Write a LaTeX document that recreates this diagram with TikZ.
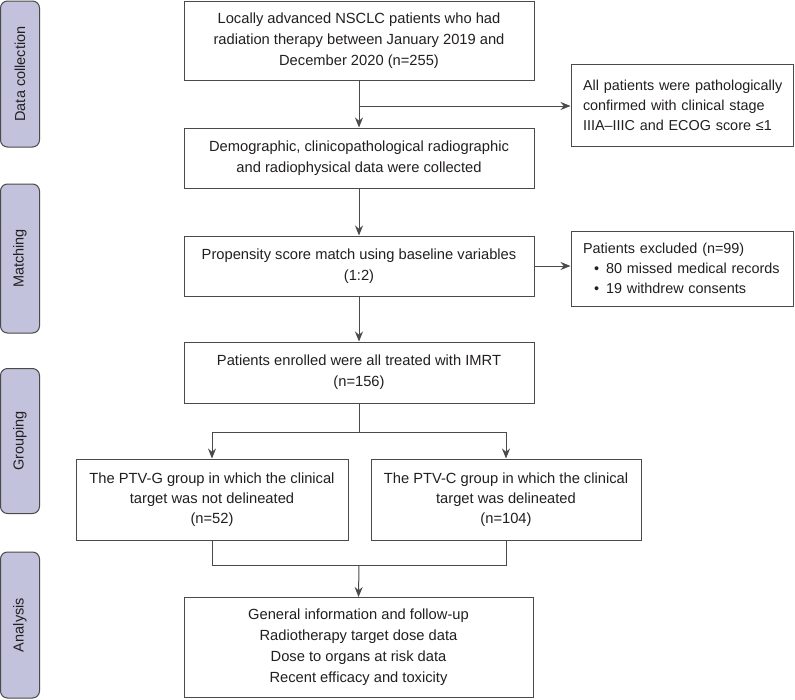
\documentclass[tikz,border=0pt]{standalone}
\usepackage{fontspec}
\setmainfont{Liberation Sans}
\usetikzlibrary{arrows.meta}
\definecolor{linec}{HTML}{4A4A4A}
\definecolor{sidefill}{HTML}{C2C2DC}
\definecolor{txt}{HTML}{231F20}
\begin{document}
\begin{tikzpicture}[x=1pt,y=-1pt,
 box/.style={draw=linec, line width=1pt, fill=white, inner sep=0pt, align=center, text=txt, font=\fontsize{14.7}{21}\selectfont},
 sidebox/.style={draw=linec, line width=1pt, fill=sidefill, rounded corners=7pt, minimum height=39, inner sep=0pt, text=txt, font=\fontsize{14.5}{18}\selectfont, rotate=90},
 notebox/.style={box, align=left, text width=198, inner xsep=12pt, font=\fontsize{14.4}{20}\selectfont},
 conn/.style={draw=linec, line width=1pt},
 arr/.style={conn, -{Stealth[length=10pt,width=8pt]}}
]
\useasboundingbox (0,0) rectangle (795,699);
% sidebars
\node[sidebox, minimum width=146] (sd1) at (20,74) {Data collection};
\node[sidebox, minimum width=149] (sd2) at (20,258.5) {Matching};
\node[sidebox, minimum width=145] (sd3) at (20,441) {Grouping};
\node[sidebox, minimum width=146] (sd4) at (20,625) {Analysis};
% main boxes
\node[box, minimum width=350, minimum height=79] (b1) at (359,40.5) {Locally advanced NSCLC patients who had\\radiation therapy between January 2019 and\\December 2020 (n=255)};
\node[box, minimum width=350, minimum height=60] (b2) at (359,158) {Demographic, clinicopathological radiographic\\and radiophysical data were collected};
\node[box, minimum width=350, minimum height=60] (b3) at (359,266) {Propensity score match using baseline variables\\(1:2)};
\node[box, minimum width=350, minimum height=61] (b4) at (359,372.5) {Patients enrolled were all treated with IMRT\\(n=156)};
\node[box, minimum width=272, minimum height=81, font=\fontsize{14.7}{20}\selectfont] (b5) at (212,499.5) {The PTV-G group in which the clinical\\target was not delineated\\(n=52)};
\node[box, minimum width=270, minimum height=81, font=\fontsize{14.7}{20}\selectfont] (b6) at (506,499.5) {The PTV-C group in which the clinical\\target was delineated\\(n=104)};
\node[box, minimum width=349, minimum height=100] (b7) at (358.5,647.5) {General information and follow-up\\Radiotherapy target dose data\\Dose to organs at risk data\\Recent efficacy and toxicity};
% side notes
\node[notebox, minimum height=82] (r1) at (682,105) {\mbox{All patients were pathologically}\\\mbox{confirmed with clinical stage}\\\mbox{IIIA–IIIC and ECOG score ≤1}};
\node[notebox, minimum height=75] (r2) at (682,268.5) {\mbox{Patients excluded (n=99)}\\\mbox{\hspace*{11pt}•\hspace{7pt}80 missed medical records}\\\mbox{\hspace*{11pt}•\hspace{7pt}19 withdrew consents}};
% connectors
\coordinate (j1) at (359,106);
\draw[arr] (b1.south) -- (b2.north);
\draw[arr] (j1) -- (j1 -| r1.west);
\draw[arr] (b2.south) -- (b3.north);
\draw[arr] (b3.east) -- (b3.east -| r2.west);
\draw[arr] (b3.south) -- (b4.north);
\coordinate (s1) at (359,432);
\coordinate (sl) at (b5.north |- s1);
\coordinate (sr) at (b6.north |- s1);
\draw[conn] (b4.south) -- (s1);
\draw[conn] (sl) -- (sr);
\draw[arr] (sl) -- (b5.north);
\draw[arr] (sr) -- (b6.north);
\coordinate (m) at (359,565);
\coordinate (ml) at (b5.south |- m);
\coordinate (mr) at (b6.south |- m);
\draw[conn] (b5.south) -- (ml) -- (mr) -- (b6.south);
\draw[arr] (m) -- (b7.north);
\end{tikzpicture}
\end{document}
